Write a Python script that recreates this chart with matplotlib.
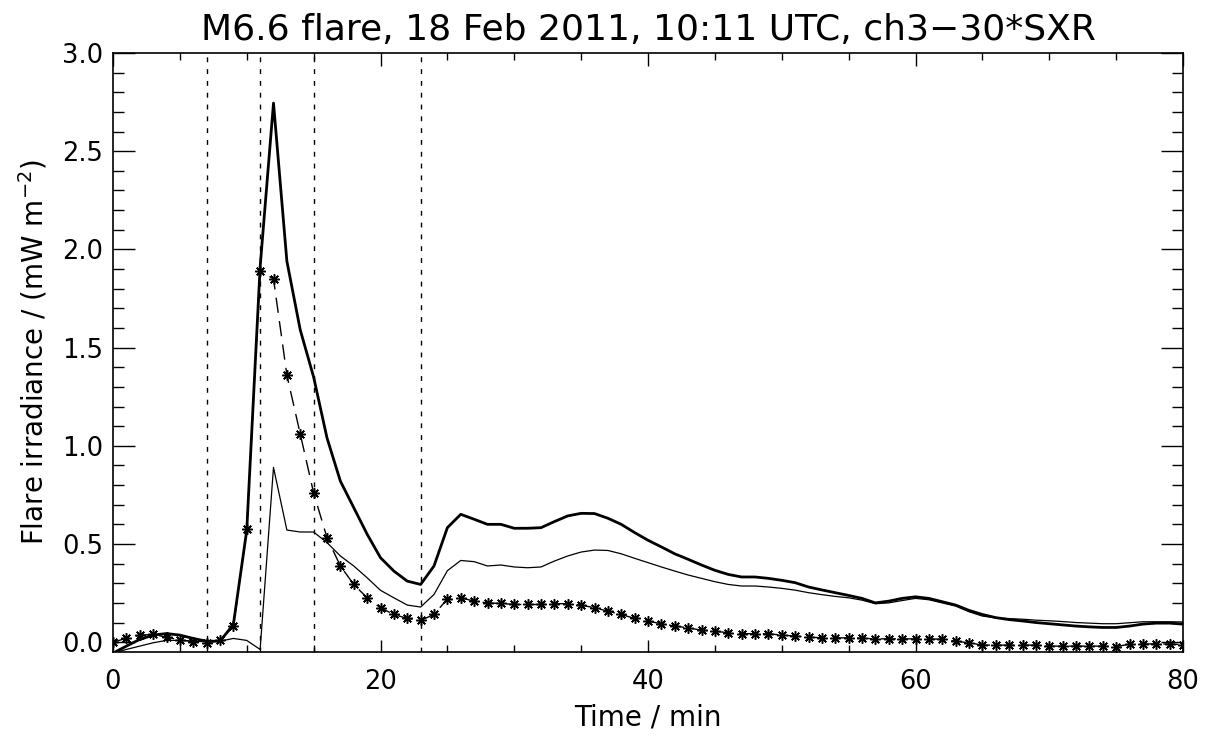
import matplotlib
matplotlib.use("Agg")
import matplotlib.pyplot as plt
from matplotlib.ticker import MultipleLocator, FormatStrFormatter

time_min = list(range(0, 81))

# scaled channel 3 (asterisks, dashed)
ch3 = [0.000, 0.020, 0.035, 0.040, 0.025, 0.012, 0.003, -0.003, 0.009, 0.080,
       0.575, 1.890, 1.850, 1.360, 1.060, 0.760, 0.532, 0.388, 0.294, 0.226,
       0.175, 0.141, 0.121, 0.111, 0.141, 0.220, 0.226, 0.209, 0.200, 0.197,
       0.192, 0.192, 0.192, 0.196, 0.196, 0.189, 0.175, 0.158, 0.141, 0.121,
       0.107, 0.094, 0.082, 0.073, 0.061, 0.056, 0.048, 0.043, 0.043, 0.043,
       0.036, 0.031, 0.026, 0.022, 0.022, 0.022, 0.020, 0.017, 0.017, 0.017,
       0.017, 0.017, 0.015, 0.005, -0.003, -0.015, -0.015, -0.015, -0.015, -0.015,
       -0.020, -0.020, -0.020, -0.020, -0.020, -0.023, -0.010, -0.010, -0.008, -0.010,
       -0.012]

# 30 * SXR (thick line)
sxr30 = [-0.056, -0.020, 0.014, 0.036, 0.044, 0.036, 0.019, 0.005, 0.005, 0.090,
         0.570, 1.910, 2.745, 1.940, 1.590, 1.350, 1.040, 0.820, 0.685, 0.550,
         0.430, 0.362, 0.311, 0.294, 0.388, 0.583, 0.651, 0.626, 0.600, 0.600,
         0.580, 0.580, 0.583, 0.614, 0.643, 0.656, 0.655, 0.631, 0.600, 0.558,
         0.519, 0.485, 0.450, 0.422, 0.393, 0.366, 0.345, 0.332, 0.332, 0.325,
         0.315, 0.303, 0.281, 0.266, 0.252, 0.238, 0.223, 0.200, 0.209, 0.223,
         0.231, 0.223, 0.206, 0.189, 0.162, 0.141, 0.125, 0.115, 0.108, 0.100,
         0.094, 0.088, 0.082, 0.078, 0.075, 0.075, 0.082, 0.092, 0.097, 0.097,
         0.092]

# thin line
thin = [-0.056, -0.037, -0.020, -0.003, 0.009, 0.009, 0.005, 0.002, 0.005, 0.019,
        0.009, -0.037, 0.890, 0.571, 0.561, 0.561, 0.507, 0.439, 0.388, 0.328,
        0.264, 0.226, 0.189, 0.179, 0.243, 0.364, 0.416, 0.410, 0.388, 0.393,
        0.383, 0.379, 0.383, 0.413, 0.439, 0.459, 0.469, 0.467, 0.450, 0.427,
        0.405, 0.383, 0.362, 0.342, 0.325, 0.308, 0.294, 0.286, 0.286, 0.281,
        0.274, 0.265, 0.252, 0.242, 0.233, 0.226, 0.214, 0.196, 0.200, 0.212,
        0.223, 0.216, 0.200, 0.184, 0.155, 0.133, 0.124, 0.120, 0.117, 0.112,
        0.109, 0.105, 0.100, 0.097, 0.094, 0.094, 0.099, 0.104, 0.104, 0.104,
        0.103]

vlines_t = [7, 11, 15, 23]

title = "M6.6 flare, 18 Feb 2011, 10:11 UTC, ch3\u221230*SXR"
xlabel = "Time / min"
ylabel = "Flare irradiance / (mW m$^{-2}$)"

plt.rcParams['font.family'] = ['DejaVu Sans']
plt.rcParams['mathtext.fontset'] = 'dejavusans'

fig = plt.figure(figsize=(12.09, 7.37), dpi=100)
ax = fig.add_axes([113/1209, 85/737, 1070/1209, 599/737])

for v in vlines_t:
    ax.axvline(v, color='black', lw=1.0, linestyle=(0, (3.5, 5)))

ax.plot(time_min, thin, color='black', lw=0.9)
ax.plot(time_min, sxr30, color='black', lw=2.0)
ax.plot(time_min, ch3, color='black', lw=1.0, linestyle=(0, (11, 6)),
        marker=(8, 2, 0), markersize=7.5, markeredgewidth=1.1)

ax.set_xlim(0, 80)
ax.set_ylim(-0.05, 3.0)
ax.xaxis.set_major_locator(MultipleLocator(20))
ax.xaxis.set_minor_locator(MultipleLocator(5))
ax.yaxis.set_major_locator(MultipleLocator(0.5))
ax.yaxis.set_minor_locator(MultipleLocator(0.1))
ax.yaxis.set_major_formatter(FormatStrFormatter('%.1f'))

ax.tick_params(which='both', direction='in', top=True, right=True, width=1.0,
               labelsize=18.5, colors='black')
ax.tick_params(axis='x', which='major', length=9, pad=12)
ax.tick_params(axis='x', which='minor', length=5)
ax.tick_params(axis='y', which='major', length=16, pad=7)
ax.tick_params(axis='y', which='minor', length=8)
for s in ax.spines.values():
    s.set_linewidth(1.2)

ax.set_title(title, fontsize=26, pad=9)
ax.set_xlabel(xlabel, fontsize=20, labelpad=6)
ax.set_ylabel(ylabel, fontsize=20, labelpad=9)

fig.savefig("out.png", dpi=100)
